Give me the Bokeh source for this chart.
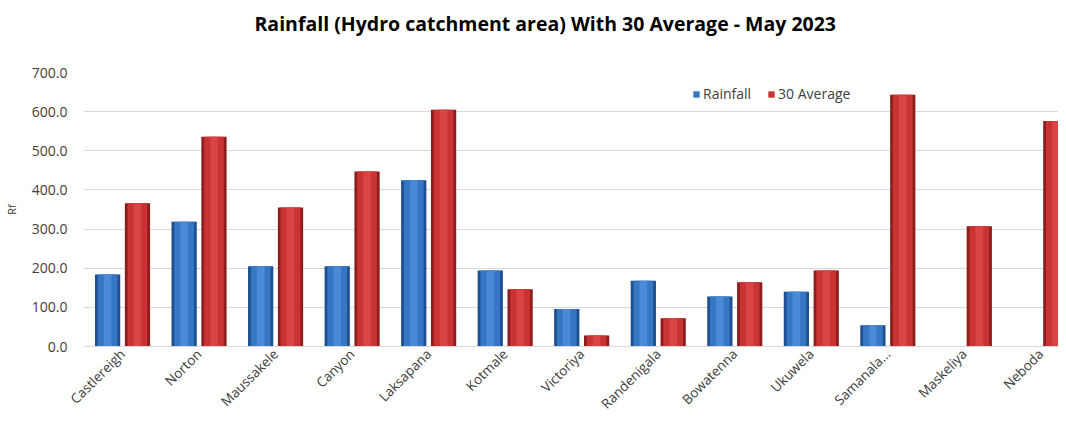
from bokeh.plotting import figure
from bokeh.models import (ColumnDataSource, FixedTicker, NumeralTickFormatter,
                          Legend, LegendItem, Range1d, Title)
from bokeh.embed import file_html
from bokeh.resources import INLINE

stations = ["Castlereigh", "Norton", "Maussakele", "Canyon", "Laksapana", "Kotmale",
            "Victoriya", "Randenigala", "Bowatenna", "Ukuwela", "Samanala...",
            "Maskeliya", "Neboda"]
rainfall = [184, 319, 205, 205, 425, 194, 96, 168, 128, 140, 54, 0, 0]
average30 = [366, 536, 355, 447, 605, 146, 28, 72, 164, 194, 643, 307, 576]
y_ticks = [0, 100, 200, 300, 400, 500, 600, 700]

idx = list(range(len(stations)))
src = ColumnDataSource(dict(
    x_r=[i - 0.195 for i in idx],
    x_a=[i + 0.195 for i in idx],
    rain=rainfall, avg=average30))

FONT = "Open Sans"
p = figure(width=1058, height=422, output_backend="svg", toolbar_location=None,
           x_range=Range1d(-0.51, 12.23), y_range=Range1d(0, 700),
           min_border_left=82, min_border_right=0, min_border_top=72,
           min_border_bottom=76)
p.outline_line_color = None
p.background_fill_color = "white"

t = Title(text="Rainfall (Hydro catchment area) With 30 Average - May 2023",
          align="left", offset=171, padding=(0, 0, 6, 36),
          text_font=FONT, text_font_size="19.5px",
          text_font_style="bold", text_color="#000000", standoff=0)
p.add_layout(t, "above")

W = 0.33
# bars: dark outer shell, main body, light centre strip
r_out = p.vbar(x="x_r", top="rain", width=W, source=src, fill_color="#1f4f8f", line_color=None)
r_main = p.vbar(x="x_r", top="rain", width=W * 0.78, source=src, fill_color="#3677c4", line_color=None)
p.vbar(x="x_r", top="rain", width=W * 0.3, source=src, fill_color="#4a8ad6", line_color=None)
a_out = p.vbar(x="x_a", top="avg", width=W, source=src, fill_color="#8e1d1d", line_color=None)
a_main = p.vbar(x="x_a", top="avg", width=W * 0.78, source=src, fill_color="#c93333", line_color=None)
p.vbar(x="x_a", top="avg", width=W * 0.3, source=src, fill_color="#da4444", line_color=None)

# x axis
p.xaxis.ticker = FixedTicker(ticks=idx)
p.xaxis.major_label_overrides = {i: s for i, s in enumerate(stations)}
p.xaxis.major_label_orientation = 0.785
p.xaxis.major_label_text_font = FONT
p.xaxis.major_label_text_font_size = "13.5px"
p.xaxis.major_label_text_color = "#404040"
p.xaxis.axis_line_color = "#d9d9d9"
p.xaxis.major_tick_line_color = None
p.xaxis.minor_tick_line_color = None
p.xaxis.major_tick_out = 0
p.xaxis.major_tick_in = 0
p.xaxis.major_label_standoff = 5
p.xgrid.grid_line_color = None

# y axis
p.yaxis.ticker = FixedTicker(ticks=y_ticks)
p.yaxis.formatter = NumeralTickFormatter(format="0.0")
p.yaxis.major_label_text_font = FONT
p.yaxis.major_label_text_font_size = "14px"
p.yaxis.major_label_text_color = "#404040"
p.yaxis.axis_line_color = None
p.yaxis.major_tick_line_color = None
p.yaxis.minor_tick_line_color = None
p.yaxis.major_label_standoff = 10
p.yaxis.axis_label = "Rf"
p.yaxis.axis_label_text_font = FONT
p.yaxis.axis_label_text_font_size = "11px"
p.yaxis.axis_label_text_font_style = "normal"
p.yaxis.axis_label_text_color = "#404040"
p.yaxis.axis_label_standoff = 10
p.ygrid.grid_line_color = "#d9d9d9"

legend = Legend(items=[LegendItem(label="Rainfall", renderers=[r_main]),
                       LegendItem(label="30 Average", renderers=[a_main])],
                orientation="horizontal", location=(609, 243),
                border_line_color=None, background_fill_alpha=0,
                glyph_width=8, glyph_height=8, spacing=16, padding=2,
                label_text_font=FONT, label_text_font_size="14px",
                label_text_color="#404040", label_standoff=3)
p.add_layout(legend)

open("out.html", "w").write(file_html(p, INLINE))
